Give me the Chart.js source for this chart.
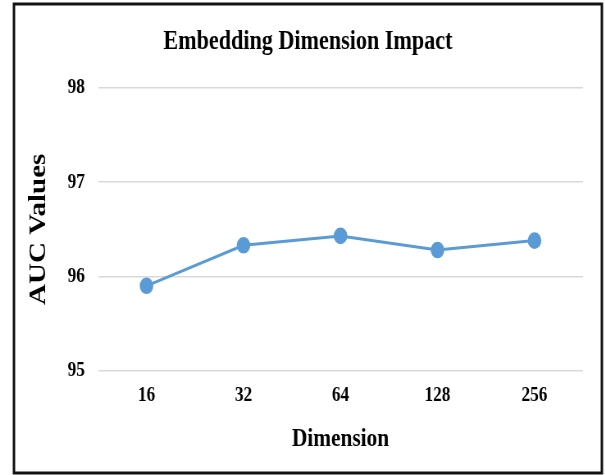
<!DOCTYPE html>
<html>
<head>
<meta charset="utf-8">
<script src="https://cdn.jsdelivr.net/npm/chart.js@4/dist/chart.umd.min.js"></script>
<style>
  html, body { margin: 0; padding: 0; background: #fff; overflow: hidden; }
  /* figure dessinée plus large puis resserrée horizontalement (police étroite) */
  #wrap { width: 738px; height: 475px; transform: scaleX(0.82); transform-origin: 0 0; }
</style>
</head>
<body>
<div id="wrap"><canvas id="chartAuc"></canvas></div>
<script>
// AUC selon la taille d'embedding
const dimensions = ['16', '32', '64', '128', '256'];
const aucValues = [95.90, 96.33, 96.43, 96.28, 96.38];
const yTicks = [95, 96, 97, 98];

const serif = '"Liberation Serif", "Times New Roman", serif';

// cadre noir autour de la figure
const cadre = {
  id: 'cadre',
  afterDraw(chart) {
    const ctx = chart.ctx;
    ctx.save();
    ctx.strokeStyle = '#111';
    ctx.lineWidth = 3;
    ctx.strokeRect(17, 4, 717, 469);
    ctx.restore();
  }
};

document.addEventListener('DOMContentLoaded', function () {
  new Chart(document.getElementById('chartAuc'), {
    type: 'line',
    data: {
      labels: dimensions,
      datasets: [{
        label: 'AUC',
        data: aucValues,
        borderColor: '#5b9bd5',
        backgroundColor: '#5b9bd5',
        borderWidth: 3,
        pointRadius: 6.8,
        pointHoverRadius: 6.8,
        tension: 0,
        fill: false
      }]
    },
    options: {
      responsive: true,
      maintainAspectRatio: false,
      animation: false,
      layout: { padding: { left: 40, right: 27, top: 26, bottom: 20 } },
      plugins: {
        legend: { display: false },
        tooltip: { enabled: false },
        title: {
          display: true,
          text: 'Embedding Dimension Impact',
          color: '#000',
          font: { family: serif, size: 27, weight: 'bold' },
          padding: { top: 0, bottom: 29.6 }
        }
      },
      scales: {
        x: {
          offset: true,
          grid: { display: false, drawTicks: false },
          border: { display: false },
          ticks: {
            color: '#000',
            padding: 12.5,
            font: { family: serif, size: 21, weight: 'bold' }
          },
          title: {
            display: true,
            text: 'Dimension',
            color: '#000',
            font: { family: serif, size: 26, weight: 'bold' },
            padding: { top: 3, bottom: 0 }
          }
        },
        y: {
          min: 95,
          max: 98,
          afterBuildTicks: function (axis) {
            axis.ticks = yTicks.map(v => ({ value: v }));
          },
          afterFit: function (axis) {
            axis.width = 79.5;
          },
          grid: { color: '#d9d9d9', lineWidth: 1.5, drawTicks: false },
          border: { display: false },
          ticks: {
            color: '#000',
            padding: 16,
            font: { family: serif, size: 21, weight: 'bold' }
          },
          title: {
            display: true,
            text: 'AUC Values',
            color: '#000',
            font: { family: serif, size: 29, weight: 'bold' },
            padding: { top: -10, bottom: 0 }
          }
        }
      }
    },
    plugins: [cadre]
  });
});
</script>
</body>
</html>
